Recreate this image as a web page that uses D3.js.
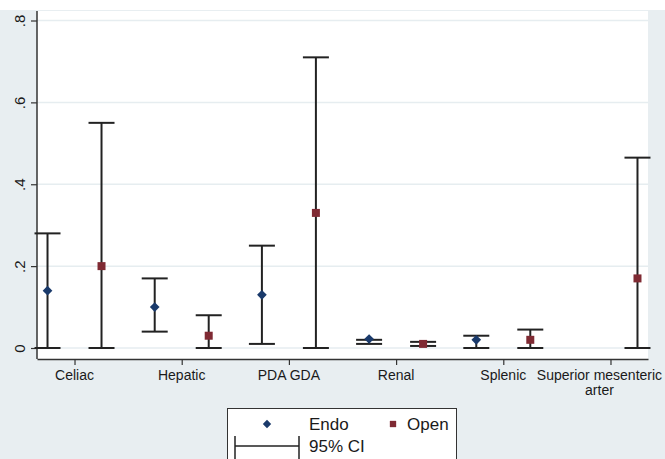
<!DOCTYPE html>
<html>
<head>
<meta charset="utf-8">
<script src="https://cdn.jsdelivr.net/npm/d3@7"></script>
<style>
	html, body { margin: 0; padding: 0; background: #ffffff; }
	#chart { width: 665px; height: 459px; }
	text { font-family: Arial, "Liberation Sans", sans-serif; fill: #1a1a1a; }
</style>
</head>
<body>
<div id="chart"></div>
<script>
//------------------------------------------------------------------------------
// Data
//------------------------------------------------------------------------------

var categories = ["Celiac", "Hepatic", "PDA GDA", "Renal", "Splenic", "Superior mesenteric arter"];

var endo_est = [0.14, 0.10, 0.13, 0.022, 0.02, null];
var endo_lo  = [0.00, 0.04, 0.01, 0.010, 0.00, null];
var endo_hi  = [0.28, 0.17, 0.25, 0.020, 0.03, null];

var open_est = [0.20, 0.03, 0.33, 0.010, 0.02, 0.17];
var open_lo  = [0.00, 0.00, 0.00, 0.005, 0.00, 0.00];
var open_hi  = [0.55, 0.08, 0.71, 0.015, 0.045, 0.465];

var y_ticks = [0, 0.2, 0.4, 0.6, 0.8];
var y_tick_labels = ["0", ".2", ".4", ".6", ".8"];


//------------------------------------------------------------------------------
// Plotting functions
//------------------------------------------------------------------------------

function plot_ci(svg){
	var width = 665, height = 459;
	var left = 37, right = 648, top = 11, bottom = 359;

	// background: white strip on top, bluish gray graph region, white plot region
	svg.append("rect").attr("width", width).attr("height", height).attr("fill", "#ffffff");
	svg.append("rect").attr("x", 0).attr("y", 10).attr("width", width).attr("height", height - 10)
		.attr("fill", "#e8eef1");
	svg.append("rect").attr("x", left).attr("y", top).attr("width", right - left).attr("height", bottom - top)
		.attr("fill", "#ffffff");

	var xscale = d3.scalePoint()
		.domain(categories)
		.range([left, right])
		.padding(0.35);

	var yscale = d3.scaleLinear()
		.domain([0, 0.8])
		.range([348, 20.5]);

	// gridlines
	svg.append("g")
		.selectAll("line")
		.data(y_ticks)
		.enter().append("line")
		.attr("x1", left).attr("x2", right)
		.attr("y1", d => yscale(d)).attr("y2", d => yscale(d))
		.attr("stroke", "#e6edf0")
		.attr("stroke-width", 1.5);

	// y axis
	var y_axis = d3.axisLeft(yscale)
		.tickValues(y_ticks)
		.tickFormat((d, i) => y_tick_labels[i])
		.tickSize(6)
		.tickSizeOuter(0);

	var gy = svg.append("g")
		.attr("transform", "translate(" + left + ",0)")
		.call(y_axis);
	gy.select(".domain").remove();
	gy.selectAll(".tick line").attr("stroke", "#333333").attr("stroke-width", 1.2);
	gy.selectAll(".tick text")
		.attr("x", 0).attr("y", 0).attr("dy", null)
		.attr("text-anchor", "middle")
		.attr("transform", "translate(-12,0) rotate(-90)")
		.style("font-size", "15px")
		.style("font-family", "Arial, 'Liberation Sans', sans-serif")
		.attr("fill", "#1a1a1a");

	svg.append("line")
		.attr("x1", left).attr("x2", left)
		.attr("y1", top).attr("y2", bottom)
		.attr("stroke", "#333333").attr("stroke-width", 1.5);

	// x axis
	var x_axis = d3.axisBottom(xscale)
		.tickSize(6)
		.tickSizeOuter(0)
		.tickFormat("");

	var gx = svg.append("g")
		.attr("transform", "translate(0," + bottom + ")")
		.call(x_axis);
	gx.select(".domain").attr("stroke", "#333333").attr("stroke-width", 1.5);
	gx.selectAll(".tick line").attr("stroke", "#333333").attr("stroke-width", 1.2);

	// x labels, the long one wraps on two lines and is nudged inside the graph
	var xl = svg.append("g")
		.selectAll("text")
		.data(categories)
		.enter().append("text")
		.attr("text-anchor", "middle")
		.attr("y", 380)
		.style("font-size", "14px");
	xl.each(function(d){
		var long = d == "Superior mesenteric arter";
		var words = long ? ["Superior mesenteric", "arter"] : [d];
		var cx = xscale(d) - (long ? 11 : 0);
		var t = d3.select(this);
		words.forEach(function(w, i){
			t.append("tspan").attr("x", cx).attr("dy", i == 0 ? 0 : 15).text(w);
		});
	});

	var off = 27, cap = 13;

	function draw_series(est, lo, hi, dx, kind, color){
		var rows = categories.map((c, i) => ({c: c, est: est[i], lo: lo[i], hi: hi[i]}))
			.filter(r => r.est !== null);
		var g = svg.append("g");

		g.selectAll("line.v").data(rows).enter().append("line")
			.attr("x1", r => xscale(r.c) + dx).attr("x2", r => xscale(r.c) + dx)
			.attr("y1", r => yscale(r.lo)).attr("y2", r => yscale(r.hi))
			.attr("stroke", "#222222").attr("stroke-width", 2);
		g.selectAll("line.lo").data(rows).enter().append("line")
			.attr("x1", r => xscale(r.c) + dx - cap).attr("x2", r => xscale(r.c) + dx + cap)
			.attr("y1", r => yscale(r.lo)).attr("y2", r => yscale(r.lo))
			.attr("stroke", "#222222").attr("stroke-width", 2);
		g.selectAll("line.hi").data(rows).enter().append("line")
			.attr("x1", r => xscale(r.c) + dx - cap).attr("x2", r => xscale(r.c) + dx + cap)
			.attr("y1", r => yscale(r.hi)).attr("y2", r => yscale(r.hi))
			.attr("stroke", "#222222").attr("stroke-width", 2);

		var sym = kind == "diamond"
			? d3.symbol().type(d3.symbolDiamond2).size(60)
			: d3.symbol().type(d3.symbolSquare).size(64);
		g.selectAll("path").data(rows).enter().append("path")
			.attr("d", sym)
			.attr("transform", r => "translate(" + (xscale(r.c) + dx) + "," + yscale(r.est) + ")")
			.attr("fill", color);
	}

	draw_series(endo_est, endo_lo, endo_hi, -off, "diamond", "#1a3a6b");
	draw_series(open_est, open_lo, open_hi, off, "square", "#7f2a33");

	// legend
	var lg = svg.append("g");
	lg.append("rect")
		.attr("x", 227.5).attr("y", 408.5).attr("width", 229).attr("height", 60)
		.attr("fill", "#ffffff").attr("stroke", "#333333").attr("stroke-width", 1);
	lg.append("path")
		.attr("d", d3.symbol().type(d3.symbolDiamond2).size(45))
		.attr("transform", "translate(267,424)")
		.attr("fill", "#1a3a6b");
	lg.append("text").attr("x", 309).attr("y", 430).style("font-size", "17px").text("Endo");
	lg.append("path")
		.attr("d", d3.symbol().type(d3.symbolSquare).size(40))
		.attr("transform", "translate(393,424)")
		.attr("fill", "#7f2a33");
	lg.append("text").attr("x", 407).attr("y", 430).style("font-size", "17px").text("Open");
	lg.append("line").attr("x1", 235).attr("x2", 299).attr("y1", 446).attr("y2", 446)
		.attr("stroke", "#222222").attr("stroke-width", 1.5);
	lg.append("line").attr("x1", 235).attr("x2", 235).attr("y1", 436).attr("y2", 459)
		.attr("stroke", "#222222").attr("stroke-width", 1.5);
	lg.append("line").attr("x1", 299).attr("x2", 299).attr("y1", 436).attr("y2", 459)
		.attr("stroke", "#222222").attr("stroke-width", 1.5);
	lg.append("text").attr("x", 309).attr("y", 452).style("font-size", "17px").text("95% CI");
}


//------------------------------------------------------------------------------
// Main
//------------------------------------------------------------------------------

function main() {
	var svg = d3.select("#chart")
		.append("svg")
		.attr("width", 665)
		.attr("height", 459);

	plot_ci(svg);
}

window.addEventListener('load', main, false);
</script>
</body>
</html>
